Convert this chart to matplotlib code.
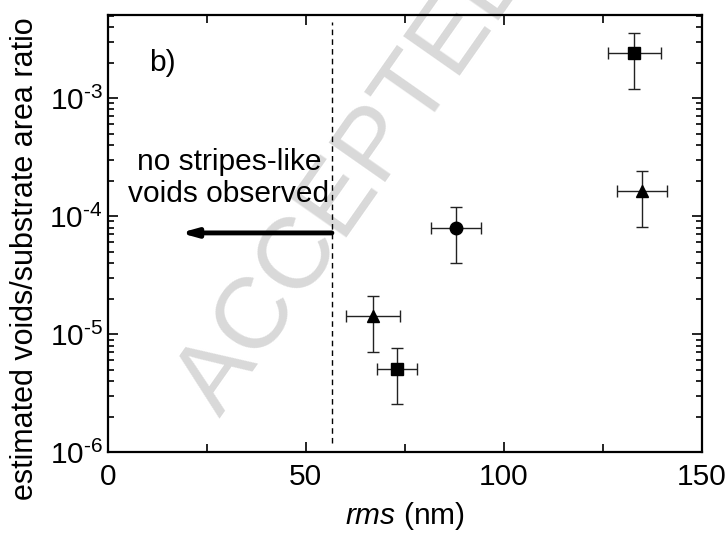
import numpy as np
import matplotlib
matplotlib.use("Agg")
import matplotlib.pyplot as plt
from matplotlib.ticker import LogLocator, MultipleLocator, NullFormatter, FuncFormatter

plt.rcParams['font.family'] = ['Liberation Sans', 'DejaVu Sans']
plt.rcParams['mathtext.fontset'] = 'custom'
plt.rcParams['mathtext.rm'] = 'Liberation Sans'
plt.rcParams['mathtext.it'] = 'Liberation Sans:italic'

# data
rms = [133, 135, 88, 67, 73]
ratio = [2.4e-3, 1.63e-4, 7.9e-5, 1.42e-5, 5.05e-6]
ratio_lo = [1.19e-3, 8.1e-5, 4.0e-5, 7.0e-6, 2.55e-6]
ratio_hi = [3.55e-3, 2.4e-4, 1.19e-4, 2.1e-5, 7.6e-6]
rms_err = [6.7, 6.3, 6.3, 6.8, 5.0]
markers = ['s', '^', 'o', '^', 's']
msizes = [8, 9, 9, 9, 8]

threshold = 56.6
arrow_end = 18.3
arrow_y = 7.2e-5

fs = 21.5

fig = plt.figure(figsize=(7.28, 5.37), dpi=100)
ax = fig.add_axes([0.148, 0.158, 0.816, 0.814])

# watermark, kept behind the data
ax.text(0.490, 0.670, "ACCEPTED", fontsize=73, color="#d9d9d9", rotation=55,
        ha='center', va='center', zorder=0, clip_on=False,
        transform=fig.transFigure)

for i in range(len(rms)):
    yerr = [[ratio[i] - ratio_lo[i]], [ratio_hi[i] - ratio[i]]]
    ax.errorbar(rms[i], ratio[i], xerr=rms_err[i], yerr=yerr, fmt=markers[i],
                color='black', ms=msizes[i], ecolor='#222222', elinewidth=1,
                capsize=4.5, capthick=1, zorder=3)

ax.axvline(threshold, ymin=0.02, ymax=0.985, color='black', ls=(0, (4, 3)), lw=1)
ax.annotate("", xy=(arrow_end, arrow_y), xytext=(threshold, arrow_y),
            arrowprops=dict(arrowstyle="-|>,head_length=0.9,head_width=0.25",
                            lw=3.5, color='black', shrinkA=0, shrinkB=0))

ax.text(30.6, 2.1e-4, "no stripes-like\nvoids observed", fontsize=fs,
        ha='center', va='center', linespacing=1.2)
ax.text(10.5, 2.0e-3, "b)", fontsize=fs, ha='left', va='center')

ax.set_yscale('log')
ax.set_xlim(0, 150)
ax.set_ylim(1e-6, 5.05e-3)
ax.xaxis.set_major_locator(MultipleLocator(50))
ax.xaxis.set_minor_locator(MultipleLocator(25))
ax.yaxis.set_major_locator(LogLocator(base=10, numticks=10))
ax.yaxis.set_minor_locator(LogLocator(base=10, subs=np.arange(2, 10), numticks=10))
ax.yaxis.set_minor_formatter(NullFormatter())
ax.yaxis.set_major_formatter(FuncFormatter(
    lambda v, pos: r"$10^{\text{-}%d}$" % round(-np.log10(v))))

ax.tick_params(which='both', direction='in', top=True, right=True, labelsize=fs, width=1.2)
ax.tick_params(which='major', length=7)
ax.tick_params(which='minor', length=4)
ax.tick_params(axis='x', which='minor', length=6)
ax.tick_params(axis='x', pad=8)
for s in ax.spines.values():
    s.set_linewidth(1.6)

ax.set_xlabel(r"$\it{rms}$ (nm)", fontsize=fs, labelpad=6)
ax.set_ylabel("estimated voids/substrate area ratio", fontsize=22)
ax.yaxis.set_label_coords(-0.114, 0.442)

fig.savefig("out.png", dpi=100)
